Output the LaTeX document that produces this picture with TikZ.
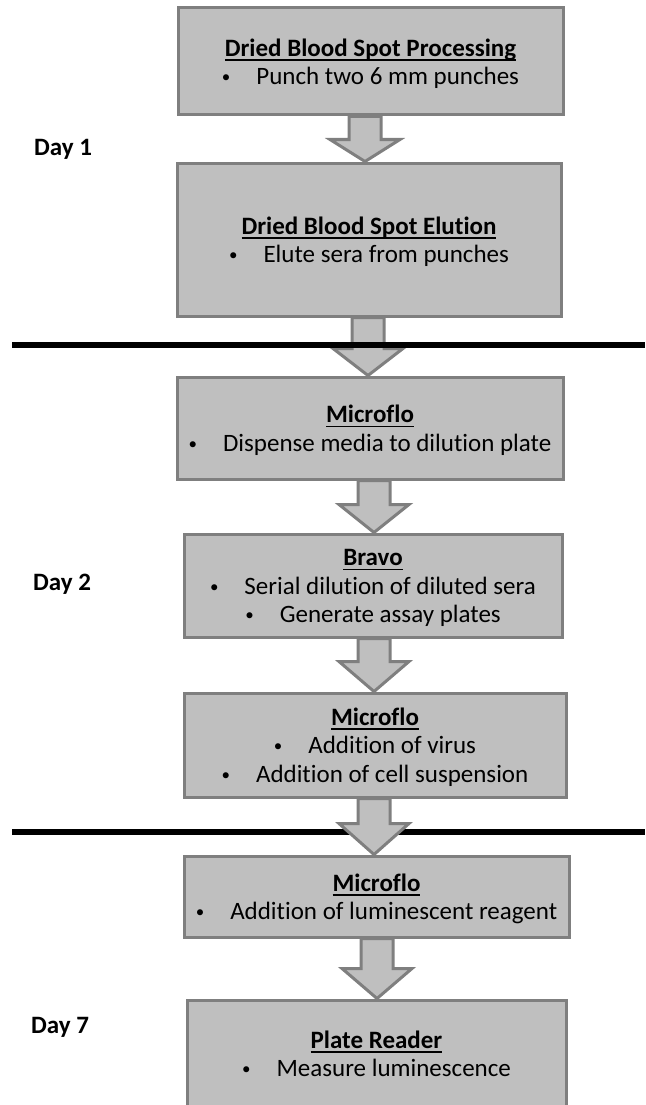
\documentclass[tikz,border=0pt]{standalone}
\usepackage{fontspec}
\setmainfont{Carlito}[Ligatures=NoCommon]
\usetikzlibrary{calc}
\definecolor{boxfill}{HTML}{BFBFBF}
\definecolor{boxline}{HTML}{7F7F7F}
\definecolor{txt}{HTML}{333333}
\tikzset{
 stepbox/.style={draw=boxline, fill=boxfill, line width=3pt, inner sep=0pt, align=center, font=\fontsize{25}{28.5}\selectfont, text=txt},
 blockarr/.style={draw=boxline, fill=boxfill, line width=3pt, line join=miter},
 sepline/.style={line width=6pt, draw=black},
 daylabel/.style={anchor=west, font=\fontsize{25}{29}\selectfont\bfseries, text=black, inner sep=0pt}
}
% title: bold, underlined, with a fixed top strut
\newcommand\ttl[1]{\setbox0\hbox{\color{black}\bfseries #1}\rule{0pt}{25pt}\rlap{\color{black}\rule[-4.5pt]{\wd0}{1.5pt}}\box0}
% bullet line with a fixed bottom strut
\newcommand\bul[1]{\raisebox{2pt}{\fontsize{17}{17}\selectfont\textbullet}\hspace{26pt}#1\rule[-7.4pt]{0pt}{7.4pt}}
% #1 from node, #2 to node, #3 centre x (pt), #4 head height (pt)
\newcommand\blockarrow[4]{%
 \draw[blockarr] let \p1=(#1.south), \p2=(#2.north) in
  (#3pt-16pt,\y1) -- (#3pt-16pt,\y2+#4pt) -- (#3pt-35pt,\y2+#4pt) -- (#3pt,\y2)
  -- (#3pt+35pt,\y2+#4pt) -- (#3pt+16pt,\y2+#4pt) -- (#3pt+16pt,\y1) -- cycle;}
\begin{document}
\begin{tikzpicture}[x=1pt,y=-1pt]
\useasboundingbox (0,0) rectangle (645,1105);
\clip (0,0) rectangle (645,1105);

\node[stepbox, minimum width=385pt, minimum height=107pt] (b1) at (370.5,61.5)
 {\ttl{Dried Blood Spot Processing}\\ \bul{Punch two 6 mm punches}};
\node[stepbox, minimum width=384pt, minimum height=153pt] (b2) at (369,239.5)
 {\ttl{Dried Blood Spot Elution}\\ \bul{Elute sera from punches}};
\node[stepbox, minimum width=386pt, minimum height=102pt] (b3) at (370,428)
 {\ttl{Microflo}\\ \bul{Dispense media to dilution plate}};
\node[stepbox, minimum width=378pt, minimum height=103pt] (b4) at (373,585.5)
 {\ttl{Bravo}\\ \bul{Serial dilution of diluted sera}\\ \bul{Generate assay plates}};
\node[stepbox, minimum width=382pt, minimum height=104pt] (b5) at (375,745)
 {\ttl{Microflo}\\ \bul{Addition of virus}\\ \bul{Addition of cell suspension}};
\node[stepbox, minimum width=385pt, minimum height=81pt] (b6) at (376.5,896.5)
 {\ttl{Microflo}\\ \bul{Addition of luminescent reagent}};
\node[stepbox, minimum width=379pt, minimum height=107pt] (b7) at (376.5,1053.5)
 {\ttl{Plate Reader}\\ \bul{Measure luminescence}};

\node[daylabel] (d1) at (34,149) {Day 1};
\node[daylabel] (d2) at (33,584) {Day 2};
\node[daylabel] (d7) at (31,1027) {Day 7};

\blockarrow{b1}{b2}{365}{22}
\blockarrow{b2}{b3}{368}{27}
\blockarrow{b3}{b4}{374}{28}
\blockarrow{b4}{b5}{374}{30}

\coordinate (l1a) at (12,344.5);
\coordinate (l1b) at (645,344.5);
\coordinate (l2a) at (12,832);
\coordinate (l2b) at (645,832);
\draw[sepline] (l1a) -- (l1b);
\draw[sepline] (l2a) -- (l2b);

\blockarrow{b5}{b6}{374}{31}
\blockarrow{b6}{b7}{377}{30}
\end{tikzpicture}
\end{document}
